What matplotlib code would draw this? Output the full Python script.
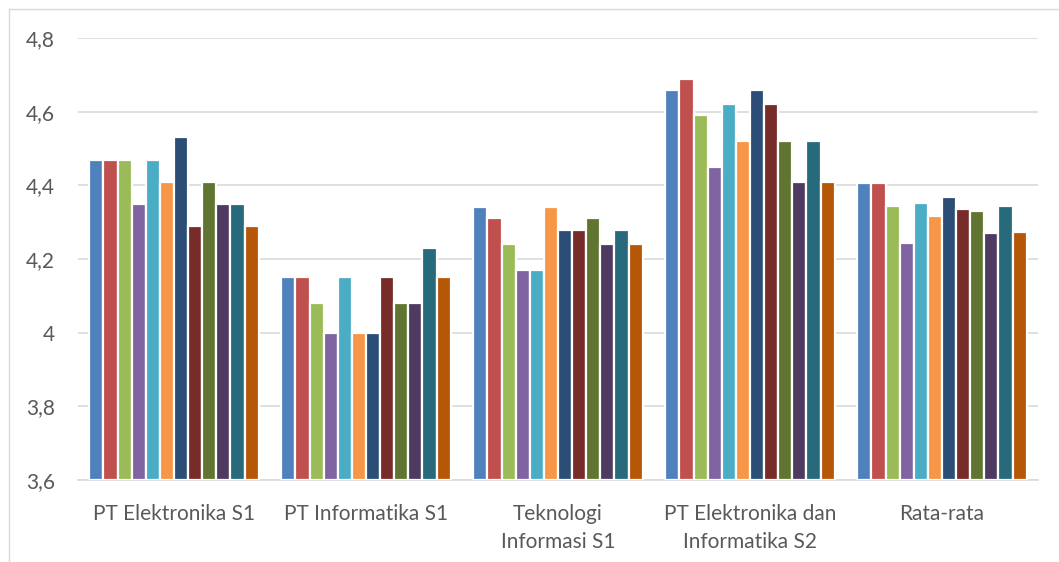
import matplotlib
matplotlib.use("Agg")
import matplotlib.pyplot as plt
import numpy as np

categories = ["PT Elektronika S1", "PT Informatika S1", "Teknologi\nInformasi S1",
              "PT Elektronika dan\nInformatika S2", "Rata-rata"]
yticks = [3.6, 3.8, 4.0, 4.2, 4.4, 4.6, 4.8]
ytick_labels = ["3,6", "3,8", "4", "4,2", "4,4", "4,6", "4,8"]

s1 = [4.47, 4.15, 4.34, 4.66, 4.405]
s2 = [4.47, 4.15, 4.31, 4.69, 4.405]
s3 = [4.47, 4.08, 4.24, 4.59, 4.345]
s4 = [4.35, 4.00, 4.17, 4.45, 4.2425]
s5 = [4.47, 4.15, 4.17, 4.62, 4.3525]
s6 = [4.41, 4.00, 4.34, 4.52, 4.3175]
s7 = [4.53, 4.00, 4.28, 4.66, 4.3675]
s8 = [4.29, 4.15, 4.28, 4.62, 4.335]
s9 = [4.41, 4.08, 4.31, 4.52, 4.33]
s10 = [4.35, 4.08, 4.24, 4.41, 4.27]
s11 = [4.35, 4.23, 4.28, 4.52, 4.345]
s12 = [4.29, 4.15, 4.24, 4.41, 4.2725]
series = [s1, s2, s3, s4, s5, s6, s7, s8, s9, s10, s11, s12]
colors = ["#4F81BD", "#C0504D", "#9BBB59", "#8064A2", "#4BACC6", "#F79646",
          "#2C4D75", "#772C2A", "#5F7530", "#4D3B62", "#276A7C", "#B65708"]

plt.rcParams['font.family'] = ['Lato', 'DejaVu Sans']

fig = plt.figure(figsize=(10.59, 5.62), dpi=100)
ax = fig.add_axes([78/1059, (562-480)/562, 960/1059, 442/562])

x = np.arange(len(categories))
w = 0.0735
n = len(series)
for j, (vals, c) in enumerate(zip(series, colors)):
    ax.bar(x + (j - (n - 1) / 2) * w, np.array(vals) - 3.6, width=w, bottom=3.6,
           color=c, edgecolor="white", linewidth=1.6, zorder=3)

ax.set_xlim(-0.5, len(categories) - 0.5)
ax.set_ylim(3.6, 4.8)
ax.set_yticks(yticks)
ax.set_yticklabels(ytick_labels)
ax.set_xticks(x)
ax.set_xticklabels(categories, linespacing=1.5)
ax.tick_params(axis="both", length=0, labelsize=15, colors="#595959")
ax.tick_params(axis="y", pad=16.5)
ax.tick_params(axis="x", pad=17)
ax.grid(axis="y", color="#D9D9D9", linewidth=1.2, zorder=0)
for side in ["top", "right", "left"]:
    ax.spines[side].set_visible(False)
ax.spines["bottom"].set_color("#D9D9D9")
ax.spines["bottom"].set_linewidth(1.2)

# chart border (left and top visible)
fig.add_artist(plt.Line2D([9/1059, 9/1059], [0, 1 - 9/562], color="#D9D9D9", linewidth=1.0, transform=fig.transFigure))
fig.add_artist(plt.Line2D([9/1059, 1], [1 - 9/562, 1 - 9/562], color="#D9D9D9", linewidth=1.0, transform=fig.transFigure))

fig.savefig("out.png", dpi=100)
